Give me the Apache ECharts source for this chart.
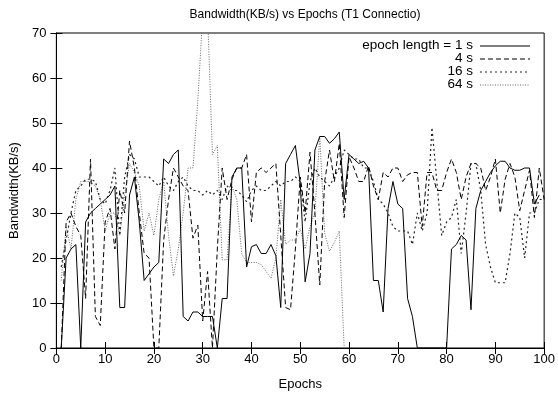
<!DOCTYPE html>
<html><head><meta charset="utf-8">
<script src="https://cdn.jsdelivr.net/npm/echarts@6/dist/echarts.min.js"></script>
<style>html,body{margin:0;padding:0;background:#fff}#c{width:558px;height:396px}</style>
</head><body><div id="c"></div>
<script>
// epochs 1..100
const epochs = Array.from({length: 100}, (_, i) => i + 1);
const s1 = [0,20,22,23,0,28,30,31,32,33,34,36,9,9,34,38,28,15,16.5,18,19,42,41,43,44,7,6,8,8,7,7,7,0,11,11,38,40,40,18,22.5,23,21,21,23,20.5,9,41,43,45,36.5,14.7,21,44,47,47,45.5,46.5,48,33,43,42,41,41.5,40,15,15,8,31,37,32,31,11,7,0,0,0,0,0,0,0,22,23,25,24,8.5,31,35,37,39,40.5,41.5,41.5,40,39.5,39.5,40,40,32,34];
const s4 = [0,28,30,27,25,11,42,7,5,28,31,22,35,30,46,40,30,21,20,0,0,24,33,40,38,36,35,24.4,27.3,6,17,0,22,40,33,37.5,40,40,43,28,39,40,39,40,41,25,9,8.5,22,38,30,43.5,30,14,37,44,37,45.5,29,42.5,40,37,37,40.5,36,33,39,38,40,40,37,38.5,39,39,27,39,39,35,35,39,42,39,33,38,41,41,40,35,38,42,30,37.5,41,38,30.5,35,39.5,29,40,33];
const s16 = [18,24,30,35,36,37.5,37.5,37,33,32,35,40,25,38,43,42,38,38,38,37,36,38,36,35,37,38,36,35,35,34,35,34,35,33,36,35,35,34,32.5,35,36,35,35,36,37,36,37,37,38,37,28,37,40,38,37,36,38,40,44,43,42,42,40,40,37,33,32,30,27,26,26,26,23,30,26,30,49,37,25,28,29,33,21,30,41,41,35,23,18,14.5,14.5,14.5,21,30,29,20,30,30,33,33];
const s64 = [15,27,22,33,37,37,37,36,33,26,30,30,25,34,41,39,36,26,30,25,33,37,25,16,22,30,40,40,55,74,74,43,45,19.6,19.6,36,33,21,19,19,19,18.5,17,15.5,20,33,23,24,24,26.5,22,27,30,47,25.5,21.5,23.5,26,0];
const xTicks = [0,10,20,30,40,50,60,70,80,90,100];
const yTicks = [0,10,20,30,40,50,60,70];
const names = ['epoch length = 1 s','4 s','16 s','64 s'];

const pairs = arr => arr.map((v, i) => [epochs[i], v]);
const FONT = 'Liberation Sans';
const chart = echarts.init(document.getElementById('c'), null, {renderer: 'canvas'});
const axisCommon = {
  axisLine: {show: true, lineStyle: {color: '#000', width: 1}},
  axisTick: {show: true, inside: true, length: 6, lineStyle: {color: '#000'}},
  splitLine: {show: false}
};
const styles = [
  {type: 'solid', color: '#000', width: 1},
  {type: [5, 3], color: '#000', width: 1},
  {type: [2, 3], color: '#222', width: 1.2},
  {type: [1, 1.5], color: '#666', width: 1}
];
const data = [s1, s4, s16, s64];
const legendY = [46, 59, 72, 85];
const graphics = [];
names.forEach((n, i) => {
  graphics.push({type: 'text', right: 558 - 473, top: legendY[i] - 8,
    style: {text: n, font: '13.5px ' + FONT, fill: '#000', textAlign: 'right'}});
  graphics.push({type: 'line', shape: {x1: 480, y1: legendY[i], x2: 530, y2: legendY[i]},
    style: {stroke: styles[i].color, lineWidth: styles[i].width, lineDash: styles[i].type === 'solid' ? null : styles[i].type}});
});
chart.setOption({
  animation: false,
  title: {text: 'Bandwidth(KB/s) vs Epochs (T1 Connectio)', left: 300, top: 4, textAlign: 'center',
    textStyle: {fontFamily: FONT, fontSize: 12, fontWeight: 'normal', color: '#000'}},
  grid: {left: 56, right: 13, top: 33, bottom: 48, show: true, borderColor: '#000', borderWidth: 1},
  xAxis: [
    Object.assign({type: 'value', min: 0, max: 100, interval: 10, name: 'Epochs', nameLocation: 'middle', nameGap: 30,
      nameTextStyle: {fontFamily: FONT, fontSize: 13, color: '#000'}}, axisCommon,
      {axisLabel: {color: '#000', fontFamily: FONT, fontSize: 13, margin: 5, formatter: v => xTicks.includes(v) ? String(v) : ''}}),
    Object.assign({type: 'value', min: 0, max: 100, interval: 10, position: 'top'}, axisCommon, {axisLabel: {show: false}})
  ],
  yAxis: [
    Object.assign({type: 'value', min: 0, max: 70, interval: 10, name: 'Bandwidth(KB/s)', nameLocation: 'middle', nameGap: 34,
      nameTextStyle: {fontFamily: FONT, fontSize: 13, color: '#000'}}, axisCommon,
      {axisLabel: {color: '#000', fontFamily: FONT, fontSize: 13, margin: 10, formatter: v => yTicks.includes(v) ? String(v) : ''}}),
    Object.assign({type: 'value', min: 0, max: 70, interval: 10, position: 'right'}, axisCommon, {axisLabel: {show: false}})
  ],
  graphic: graphics,
  series: data.map((arr, i) => ({
    name: names[i], type: 'line', data: pairs(arr), symbol: 'none', clip: true,
    xAxisIndex: 0, yAxisIndex: 0,
    lineStyle: {color: styles[i].color, width: styles[i].width, type: styles[i].type},
    z: 10 - i
  }))
});
</script></body></html>
